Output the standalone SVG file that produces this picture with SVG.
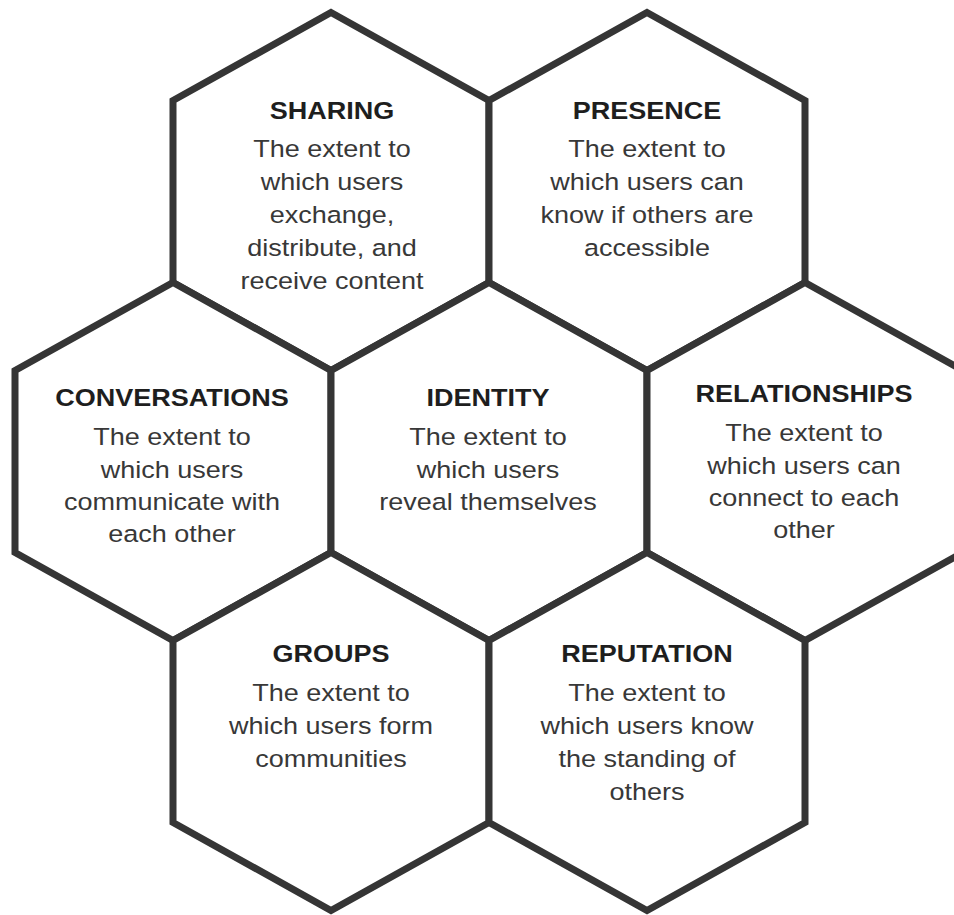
<svg xmlns="http://www.w3.org/2000/svg" width="954" height="915" viewBox="0 0 954 915">
<style>
.hex{fill:#ffffff;stroke:#353535;stroke-width:7;stroke-linejoin:miter}
.t{font-family:"Liberation Sans",Arial,sans-serif;font-size:23.5px;font-weight:bold;fill:#1e1e1e;text-anchor:middle}
.b{font-family:"Liberation Sans",Arial,sans-serif;font-size:23.5px;fill:#383838;text-anchor:middle}
</style>
<rect width="954" height="915" fill="#ffffff"/>
<g id="connectors"></g>
<g id="sharing">
<polygon class="hex" points="331,12.5 489,100.5 489,282.5 331,370.5 173,282.5 173,100.5"/>
<g transform="translate(332 0) scale(1.15 1)">
<text class="t" x="0" y="119">SHARING</text>
<text class="b" x="0" y="157">The extent to</text>
<text class="b" x="0" y="190">which users</text>
<text class="b" x="0" y="223">exchange,</text>
<text class="b" x="0" y="256">distribute, and</text>
<text class="b" x="0" y="289">receive content</text>
</g>
</g>
<g id="presence">
<polygon class="hex" points="647,12.5 805,100.5 805,282.5 647,370.5 489,282.5 489,100.5"/>
<g transform="translate(647 0) scale(1.15 1)">
<text class="t" x="0" y="119">PRESENCE</text>
<text class="b" x="0" y="157">The extent to</text>
<text class="b" x="0" y="190">which users can</text>
<text class="b" x="0" y="223">know if others are</text>
<text class="b" x="0" y="256">accessible</text>
</g>
</g>
<g id="conversations">
<polygon class="hex" points="173,282.5 331,370.5 331,552.5 173,640.5 15,552.5 15,370.5"/>
<g transform="translate(172 0) scale(1.15 1)">
<text class="t" x="0" y="406">CONVERSATIONS</text>
<text class="b" x="0" y="445">The extent to</text>
<text class="b" x="0" y="478">which users</text>
<text class="b" x="0" y="510">communicate with</text>
<text class="b" x="0" y="542">each other</text>
</g>
</g>
<g id="identity">
<polygon class="hex" points="489,282.5 647,370.5 647,552.5 489,640.5 331,552.5 331,370.5"/>
<g transform="translate(488 0) scale(1.15 1)">
<text class="t" x="0" y="406">IDENTITY</text>
<text class="b" x="0" y="445">The extent to</text>
<text class="b" x="0" y="478">which users</text>
<text class="b" x="0" y="510">reveal themselves</text>
</g>
</g>
<g id="relationships">
<polygon class="hex" points="805,282.5 963,370.5 963,552.5 805,640.5 647,552.5 647,370.5"/>
<g transform="translate(804 0) scale(1.15 1)">
<text class="t" x="0" y="402">RELATIONSHIPS</text>
<text class="b" x="0" y="441">The extent to</text>
<text class="b" x="0" y="474">which users can</text>
<text class="b" x="0" y="506">connect to each</text>
<text class="b" x="0" y="538">other</text>
</g>
</g>
<g id="groups">
<polygon class="hex" points="331,552.5 489,640.5 489,822.5 331,910.5 173,822.5 173,640.5"/>
<g transform="translate(331 0) scale(1.15 1)">
<text class="t" x="0" y="662">GROUPS</text>
<text class="b" x="0" y="701">The extent to</text>
<text class="b" x="0" y="734">which users form</text>
<text class="b" x="0" y="767">communities</text>
</g>
</g>
<g id="reputation">
<polygon class="hex" points="647,552.5 805,640.5 805,822.5 647,910.5 489,822.5 489,640.5"/>
<g transform="translate(647 0) scale(1.15 1)">
<text class="t" x="0" y="662">REPUTATION</text>
<text class="b" x="0" y="701">The extent to</text>
<text class="b" x="0" y="734">which users know</text>
<text class="b" x="0" y="767">the standing of</text>
<text class="b" x="0" y="800">others</text>
</g>
</g>
</svg>
